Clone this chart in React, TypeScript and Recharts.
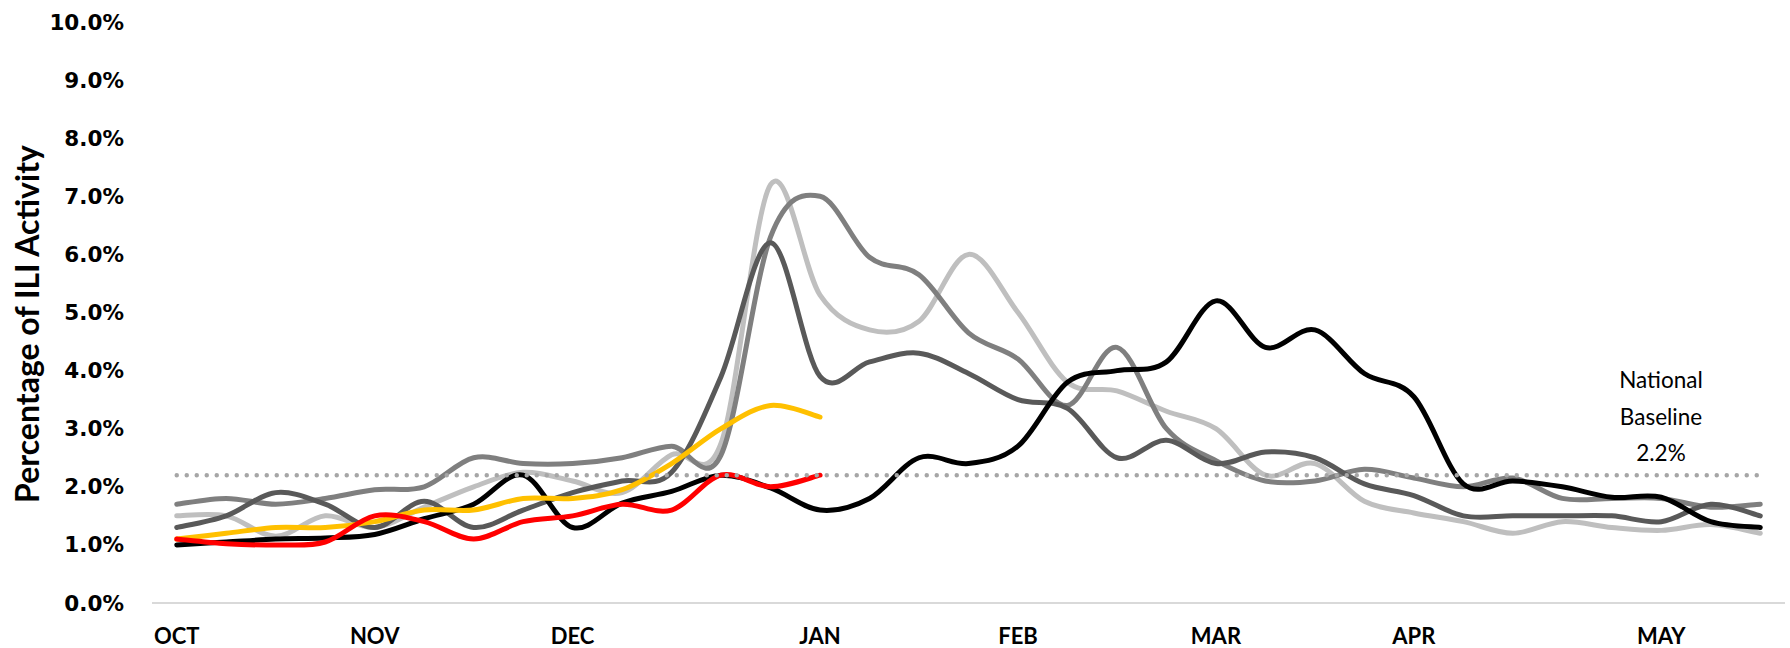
import React from "react";
import { LineChart, Line, XAxis, YAxis, ReferenceLine } from "recharts";

// MMWR weeks 40 -> 20
const weeks = [40, 41, 42, 43, 44, 45, 46, 47, 48, 49, 50, 51, 52, 1, 2, 3, 4, 5, 6, 7, 8, 9, 10, 11, 12, 13, 14, 15, 16, 17, 18, 19, 20];

const lightGray = [1.5, 1.5, 1.15, 1.5, 1.3, 1.65, 2.0, 2.25, 2.1, 1.9, 2.55, 2.75, 7.2, 5.3, 4.7, 4.85, 6.0, 5.0, 3.8, 3.65, 3.3, 3.0, 2.2, 2.4, 1.75, 1.55, 1.4, 1.2, 1.4, 1.3, 1.25, 1.35, 1.2];
const midGray = [1.7, 1.8, 1.7, 1.8, 1.95, 2.0, 2.5, 2.4, 2.4, 2.5, 2.7, 2.55, 6.3, 7.0, 5.95, 5.65, 4.65, 4.2, 3.4, 4.4, 3.0, 2.45, 2.1, 2.1, 2.3, 2.15, 2.0, 2.15, 1.8, 1.8, 1.8, 1.65, 1.7];
const darkGray = [1.3, 1.5, 1.9, 1.7, 1.3, 1.75, 1.3, 1.6, 1.9, 2.1, 2.25, 3.9, 6.2, 3.9, 4.15, 4.3, 3.95, 3.5, 3.35, 2.5, 2.8, 2.4, 2.6, 2.5, 2.05, 1.85, 1.5, 1.5, 1.5, 1.5, 1.4, 1.7, 1.5];
const black = [1.0, 1.05, 1.1, 1.12, 1.18, 1.45, 1.7, 2.2, 1.3, 1.72, 1.92, 2.2, 1.98, 1.6, 1.8, 2.5, 2.4, 2.7, 3.8, 4.0, 4.15, 5.2, 4.4, 4.7, 3.95, 3.55, 2.05, 2.1, 2.0, 1.82, 1.82, 1.4, 1.3];
const yellow = [1.1, 1.2, 1.3, 1.3, 1.4, 1.6, 1.6, 1.8, 1.8, 1.95, 2.4, 3.0, 3.4, 3.2];
const red = [1.1, 1.02, 1.0, 1.05, 1.5, 1.4, 1.1, 1.4, 1.5, 1.7, 1.6, 2.2, 2.0, 2.2];

const monthTicks = [0, 4, 8, 13, 17, 21, 25, 30];
const monthLabels = ["OCT", "NOV", "DEC", "JAN", "FEB", "MAR", "APR", "MAY"];
const yTicks = [0, 1, 2, 3, 4, 5, 6, 7, 8, 9, 10];
const baseline = 2.2;

const data = weeks.map((wk, i) => ({
  i,
  wk,
  lightGray: lightGray[i],
  midGray: midGray[i],
  darkGray: darkGray[i],
  black: black[i],
  yellow: yellow[i],
  red: red[i],
}));

// Excel-style smoothed line (Catmull-Rom through each point)
const excelSmooth = (context: any) => {
  let pts: number[][] = [];
  return {
    areaStart() {},
    areaEnd() {},
    lineStart() {
      pts = [];
    },
    point(x: number, y: number) {
      pts.push([+x, +y]);
    },
    lineEnd() {
      if (!pts.length) return;
      context.moveTo(pts[0][0], pts[0][1]);
      for (let k = 0; k < pts.length - 1; k++) {
        const p0 = pts[Math.max(k - 1, 0)];
        const p1 = pts[k];
        const p2 = pts[k + 1];
        const p3 = pts[Math.min(k + 2, pts.length - 1)];
        context.bezierCurveTo(
          p1[0] + (p2[0] - p0[0]) / 6,
          p1[1] + (p2[1] - p0[1]) / 6,
          p2[0] - (p3[0] - p1[0]) / 6,
          p2[1] - (p3[1] - p1[1]) / 6,
          p2[0],
          p2[1]
        );
      }
    },
  };
};

const XTick = ({ x, y, payload }: any) => (
  <text
    x={x}
    y={y}
    dy={41}
    textAnchor="middle"
    fill="#000"
    style={{ fontFamily: "Lato", fontWeight: 700, fontSize: 22 }}
  >
    {monthLabels[monthTicks.indexOf(payload.value)]}
  </text>
);

const YTick = ({ x, y, payload }: any) => (
  <text
    x={x}
    y={y}
    dy={7.5}
    textAnchor="end"
    fill="#000"
    style={{ fontFamily: "DejaVu Sans", fontWeight: 700, fontSize: 21.5 }}
  >
    {payload.value.toFixed(1)}%
  </text>
);

const series = [
  { key: "lightGray", color: "#bfbfbf" },
  { key: "midGray", color: "#7f7f7f" },
  { key: "darkGray", color: "#595959" },
  { key: "black", color: "#000000" },
  { key: "yellow", color: "#ffc000" },
  { key: "red", color: "#ff0000" },
];

export default function App() {
  return (
    <div
      style={{
        position: "absolute",
        left: 0,
        top: 0,
        width: 1790,
        height: 648,
        background: "#fff",
        overflow: "hidden",
      }}
    >
      <LineChart
        width={1790}
        height={648}
        data={data}
        margin={{ top: 22, right: 5, bottom: 0, left: 0 }}
      >
        <XAxis
          dataKey="i"
          type="number"
          domain={[-0.5, 32.5]}
          ticks={monthTicks}
          interval={0}
          height={45}
          tickLine={false}
          tickSize={0}
          tickMargin={0}
          axisLine={{ stroke: "#d9d9d9", strokeWidth: 2 }}
          tick={<XTick />}
        />
        <YAxis
          domain={[0, 10]}
          ticks={yTicks}
          interval={0}
          width={152}
          axisLine={false}
          tickLine={false}
          tickSize={0}
          tickMargin={28}
          tick={<YTick />}
        />
        {series.map((s) => (
          <Line
            key={s.key}
            dataKey={s.key}
            type={excelSmooth as any}
            stroke={s.color}
            strokeWidth={5}
            strokeLinecap="round"
            strokeLinejoin="round"
            dot={false}
            activeDot={false}
            isAnimationActive={false}
          />
        ))}
        <ReferenceLine
          segment={[
            { x: 0, y: baseline },
            { x: 32, y: baseline },
          ]}
          stroke="#a6a6a6"
          strokeWidth={4.5}
          strokeDasharray="0 10"
          strokeLinecap="round"
        />
      </LineChart>
      <div
        style={{
          position: "absolute",
          left: 26,
          top: 324,
          transform: "translate(-50%, -50%) rotate(-90deg)",
          whiteSpace: "nowrap",
          fontFamily: "Lato",
          fontWeight: 700,
          fontSize: 32,
          color: "#000",
        }}
      >
        Percentage of ILI Activity
      </div>
      <div
        style={{
          position: "absolute",
          left: 1661,
          top: 362,
          transform: "translateX(-50%)",
          textAlign: "center",
          whiteSpace: "nowrap",
          fontFamily: "Lato",
          fontSize: 22.5,
          lineHeight: "36.5px",
          color: "#000",
        }}
      >
        National
        <br />
        Baseline
        <br />
        {baseline}%
      </div>
    </div>
  );
}
